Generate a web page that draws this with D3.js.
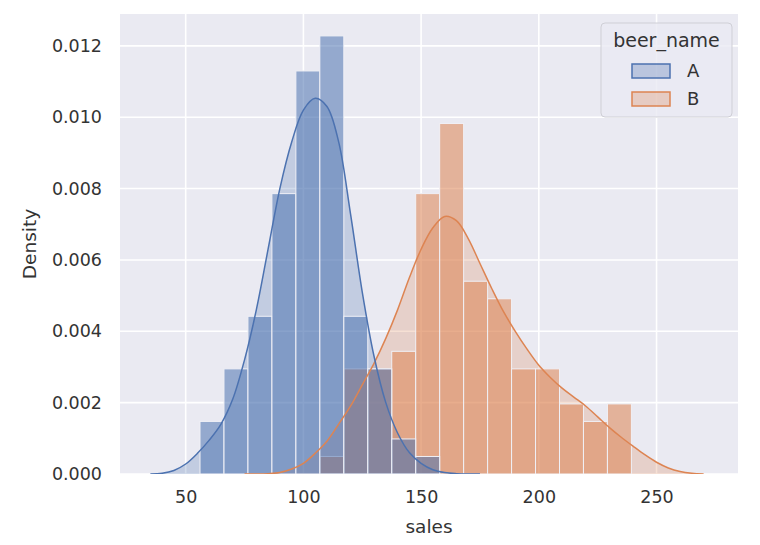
<!DOCTYPE html>
<html>
<head>
<meta charset="utf-8">
<script src="https://cdn.jsdelivr.net/npm/d3@7"></script>
<style>
  body { margin: 0; background: #fff; }
  text { font-family: "DejaVu Sans", sans-serif; fill: #333; }
</style>
</head>
<body>
<svg id="chart" width="760" height="545"></svg>
<script>
/* Layered density histogram of sales by beer, with KDE curves */

const beerNames = ['A', 'B'];
const beerColors = ['#4c72b0', '#dd8452'];

// shared bins for both beers
const binStart = 56.08;
const binWidth = 10.18;
const countsA = [3, 6, 9, 16, 23, 25, 9, 6, 2, 1, 0, 0, 0, 0, 0, 0, 0, 0];
const countsB = [0, 0, 0, 0, 0, 1, 6, 6, 7, 16, 20, 11, 10, 6, 6, 4, 3, 4];

// kde curves
const kdeXA = [35, 40, 45, 50, 55, 60, 65, 70, 75, 80, 85, 90, 95, 100, 105, 110, 115, 120, 125, 130, 135, 140, 145, 150, 155, 160, 165, 170, 175];
const kdeYA = [0, 0.00002, 0.0001, 0.00028, 0.00058, 0.00095, 0.0014, 0.0021, 0.0032, 0.0046, 0.0063, 0.0080, 0.0093, 0.0102, 0.01053, 0.0103, 0.0093, 0.0073, 0.0051, 0.0033, 0.0020, 0.00115, 0.0006, 0.0003, 0.00012, 0.00004, 0.00001, 0, 0];
const kdeXB = [75, 80, 85, 90, 95, 100, 105, 110, 115, 120, 125, 130, 135, 140, 145, 150, 155, 160, 165, 170, 175, 180, 185, 190, 195, 200, 205, 210, 215, 220, 225, 230, 235, 240, 245, 250, 255, 260, 265, 270];
const kdeYB = [0, 0, 0.00001, 0.00004, 0.00014, 0.0003, 0.00058, 0.00092, 0.0014, 0.0019, 0.0025, 0.0031, 0.0038, 0.0046, 0.0055, 0.0063, 0.0069, 0.00722, 0.0071, 0.0066, 0.0059, 0.0052, 0.00455, 0.0040, 0.0035, 0.00305, 0.0027, 0.0024, 0.00215, 0.0019, 0.0016, 0.0013, 0.00103, 0.00078, 0.00054, 0.00033, 0.00017, 0.00007, 0.00002, 0];

const xTicks = [50, 100, 150, 200, 250];
const yTicks = [0, 0.002, 0.004, 0.006, 0.008, 0.010, 0.012];

const width = 760, height = 545;
const margin = { top: 14, right: 22, bottom: 71, left: 120 };
const innerW = width - margin.left - margin.right;
const innerH = height - margin.top - margin.bottom;

const totalN = d3.sum(countsA) + d3.sum(countsB);
function makeBins(counts) {
  return counts.map((c, i) => ({
    x0: binStart + i * binWidth,
    x1: binStart + (i + 1) * binWidth,
    density: c / (totalN * binWidth)
  })).filter(b => b.density > 0);
}

const series = [
  { name: beerNames[0], color: beerColors[0], bins: makeBins(countsA), kde: kdeXA.map((x, i) => [x, kdeYA[i]]) },
  { name: beerNames[1], color: beerColors[1], bins: makeBins(countsB), kde: kdeXB.map((x, i) => [x, kdeYB[i]]) }
];
// first level ends up on top, like seaborn
const drawOrder = series.slice().reverse();

const maxDensity = d3.max(series, s => d3.max(s.bins, b => b.density));

const x = d3.scaleLinear().domain([22.1, 284.6]).range([0, innerW]);
const y = d3.scaleLinear().domain([0, maxDensity * 1.05]).range([innerH, 0]);

const svg = d3.select('#chart');
svg.append('defs').append('clipPath').attr('id', 'plot-clip')
  .append('rect').attr('width', innerW).attr('height', innerH);

const g = svg.append('g').attr('transform', `translate(${margin.left},${margin.top})`);

g.append('rect').attr('width', innerW).attr('height', innerH).attr('fill', '#eaeaf2');

// grid
g.append('g').selectAll('line').data(xTicks).join('line')
  .attr('x1', d => x(d)).attr('x2', d => x(d)).attr('y1', 0).attr('y2', innerH)
  .attr('stroke', '#fff').attr('stroke-width', 1.6);
g.append('g').selectAll('line').data(yTicks).join('line')
  .attr('x1', 0).attr('x2', innerW).attr('y1', d => y(d)).attr('y2', d => y(d))
  .attr('stroke', '#fff').attr('stroke-width', 1.6);

const plot = g.append('g').attr('clip-path', 'url(#plot-clip)');

const area = d3.area().curve(d3.curveCatmullRom.alpha(0.5))
  .x(d => x(d[0])).y0(y(0)).y1(d => y(d[1]));
const line = d3.line().curve(d3.curveCatmullRom.alpha(0.5))
  .x(d => x(d[0])).y(d => y(d[1]));

// kde fills
drawOrder.forEach(s => {
  plot.append('path').datum(s.kde).attr('d', area)
    .attr('fill', s.color).attr('fill-opacity', 0.25);
});

// bars
drawOrder.forEach(s => {
  plot.append('g').selectAll('rect').data(s.bins).join('rect')
    .attr('x', d => x(d.x0)).attr('width', d => x(d.x1) - x(d.x0))
    .attr('y', d => y(d.density)).attr('height', d => y(0) - y(d.density))
    .attr('fill', s.color).attr('fill-opacity', 0.55)
    .attr('stroke', '#f0f0f6').attr('stroke-width', 1);
});

// kde lines
drawOrder.forEach(s => {
  plot.append('path').datum(s.kde).attr('d', line)
    .attr('fill', 'none').attr('stroke', s.color).attr('stroke-width', 1.5);
});

// axes (labels only, no tick marks)
const xAxis = g.append('g').attr('transform', `translate(0,${innerH})`)
  .call(d3.axisBottom(x).tickValues(xTicks).tickSize(0).tickPadding(17));
const yAxis = g.append('g')
  .call(d3.axisLeft(y).tickValues(yTicks).tickFormat(d3.format('.3f')).tickSize(0).tickPadding(18));
[xAxis, yAxis].forEach(a => {
  a.select('.domain').remove();
  a.selectAll('text').attr('font-size', 17.5).attr('fill', '#333')
    .attr('font-family', '"DejaVu Sans", sans-serif');
});

g.append('text').attr('x', innerW / 2).attr('y', innerH + 59)
  .attr('text-anchor', 'middle').attr('font-size', 18.5).text('sales');
g.append('text')
  .attr('transform', `translate(${30 - margin.left},${innerH / 2}) rotate(-90)`)
  .attr('text-anchor', 'middle').attr('dy', '0.35em').attr('font-size', 18.5).text('Density');

// legend
const legend = svg.append('g').attr('transform', 'translate(601,23)');
legend.append('rect').attr('width', 131).attr('height', 94).attr('rx', 4)
  .attr('fill', '#eaeaf2').attr('fill-opacity', 0.8)
  .attr('stroke', '#cfcfd6').attr('stroke-width', 1);
legend.append('text').attr('x', 65.5).attr('y', 24)
  .attr('text-anchor', 'middle').attr('font-size', 19).text('beer_name');
series.forEach((s, i) => {
  const row = legend.append('g').attr('transform', `translate(0,${48 + i * 28})`);
  row.append('rect').attr('x', 31).attr('y', -7).attr('width', 38).attr('height', 14)
    .attr('fill', s.color).attr('fill-opacity', 0.3)
    .attr('stroke', s.color).attr('stroke-width', 1.5);
  row.append('text').attr('x', 86).attr('y', 0).attr('dy', '0.35em')
    .attr('font-size', 18).text(s.name);
});
</script>
</body>
</html>
